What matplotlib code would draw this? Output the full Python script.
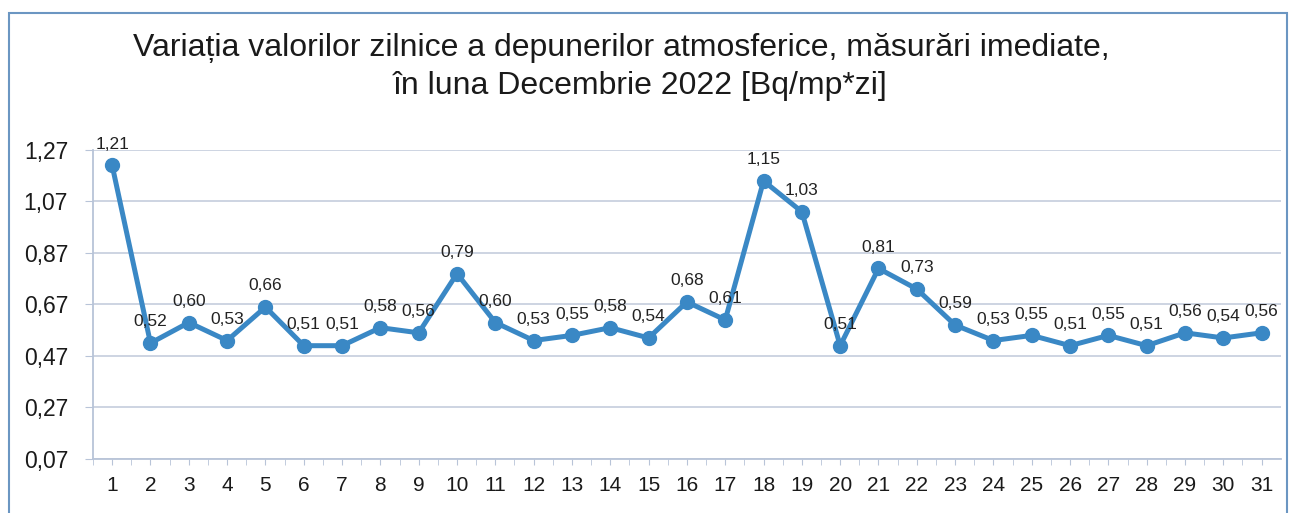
import matplotlib.pyplot as plt
from matplotlib.patches import Rectangle

zile = list(range(1, 32))
valori = [1.21, 0.52, 0.60, 0.53, 0.66, 0.51, 0.51, 0.58, 0.56, 0.79,
          0.60, 0.53, 0.55, 0.58, 0.54, 0.68, 0.61, 1.15, 1.03, 0.51,
          0.81, 0.73, 0.59, 0.53, 0.55, 0.51, 0.55, 0.51, 0.56, 0.54, 0.56]
y_ticks = [0.07, 0.27, 0.47, 0.67, 0.87, 1.07, 1.27]

plt.rcParams['font.family'] = ['Liberation Sans', 'DejaVu Sans']

fig = plt.figure(figsize=(12.99, 5.13), dpi=100)
ax = fig.add_axes([0.0716, 0.1053, 0.9144, 0.6023])

ax.plot(zile, valori, color='#3a88c5', linewidth=3.6, marker='o',
        markersize=10, zorder=3)

for x, v in zip(zile, valori):
    ax.annotate(f"{v:.2f}".replace('.', ','), (x, v), textcoords='offset points',
                xytext=(0, 10), ha='center', va='bottom', fontsize=12.5,
                color='#222222')

ax.set_xlim(0.5, 31.5)
ax.set_ylim(0.07, 1.27)
ax.set_xticks(zile)
ax.set_xticks([z + 0.5 for z in zile[:-1]] + [0.5], minor=True)
ax.set_yticks(y_ticks)
ax.set_yticklabels([f"{t:.2f}".replace('.', ',') for t in y_ticks])
ax.tick_params(axis='both', which='both', colors='#b8c4d8', labelcolor='#1a1a1a')
ax.tick_params(axis='y', labelsize=16.5, length=6, pad=12)
ax.tick_params(axis='x', labelsize=15, length=4, pad=8)
ax.tick_params(axis='x', which='minor', length=4)
ax.grid(axis='y', color='#c9d1df', linewidth=1.3)
ax.set_axisbelow(True)
for s in ['top', 'right']:
    ax.spines[s].set_visible(False)
ax.spines['left'].set_color('#b8c4d8')
ax.spines['bottom'].set_color('#b8c4d8')
ax.spines['left'].set_linewidth(1.3)
ax.spines['bottom'].set_linewidth(1.3)

fig.text(0.4785, 1 - 48 / 513, "Variația valorilor zilnice a depunerilor atmosferice, măsurări imediate,",
         ha='center', va='center', fontsize=23, color='#1a1a1a')
fig.text(0.493, 1 - 86 / 513, "în luna Decembrie 2022 [Bq/mp*zi]",
         ha='center', va='center', fontsize=23, color='#1a1a1a')

fig.patches.append(Rectangle((0.007, -0.01), 0.984, 0.985, transform=fig.transFigure,
                             fill=False, edgecolor='#6b96c2', linewidth=1.5))

fig.savefig('out.png', dpi=100)
